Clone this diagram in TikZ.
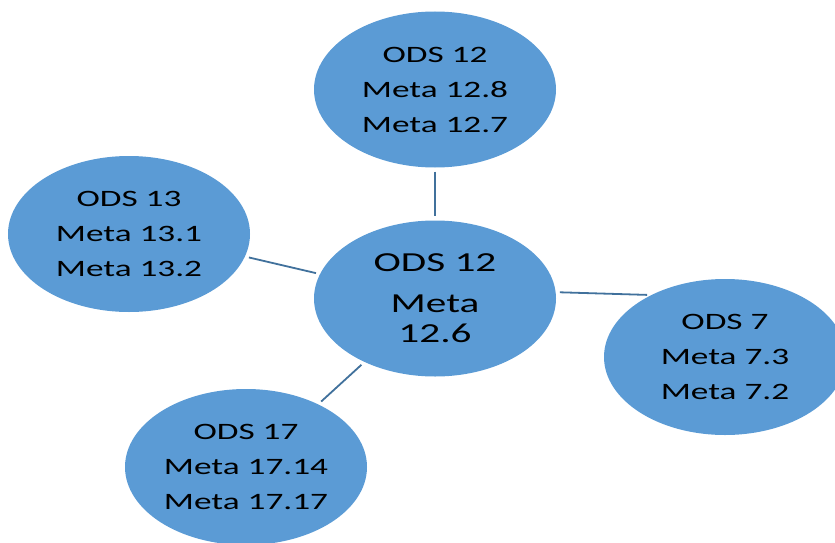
\documentclass[tikz,border=0pt]{standalone}
\usepackage{fontspec}
\setmainfont{Carlito}
\newfontfamily\odsfont[FakeStretch=1.5]{Carlito}
\usetikzlibrary{shapes.geometric}
\definecolor{odsfill}{HTML}{5B9BD5}
\definecolor{odsline}{HTML}{41719C}
\begin{document}
\begin{tikzpicture}[x=1pt, y=-1pt,
    goal/.style={shape=ellipse, fill=odsfill, minimum width=242pt, minimum height=156pt, inner sep=0pt, align=center, font=\odsfont\fontsize{23.5}{35}\selectfont},
    link/.style={draw=odsline, line width=1.8pt, shorten <=4pt, shorten >=4pt}]
        \useasboundingbox (0,0) rectangle (835,543);
        \node[goal] (M12) at (435,89.5) {ODS 12\\Meta 12.8\\Meta 12.7};
        \node[goal] (M13) at (129,234) {ODS 13\\Meta 13.1\\Meta 13.2};
        \node[goal] (M7) at (725,357) {ODS 7\\Meta 7.3\\Meta 7.2};
        \node[goal] (M17) at (246,467) {ODS 17\\Meta 17.14\\Meta 17.17};
        \node[goal, font=\odsfont\fontsize{27.5}{30}\selectfont] (Mc) at (435,298.5) {ODS 12\\[11pt]Meta\\12.6};
        \draw[link] (M12.270) -- (Mc.90);
        \draw[link] (M13.-11.7) -- (Mc.168.4);
        \draw[link] (Mc.3.2) -- (M7.140.6);
        \draw[link] (Mc.222) -- (M17.41.3);
    \end{tikzpicture}
\end{document}
